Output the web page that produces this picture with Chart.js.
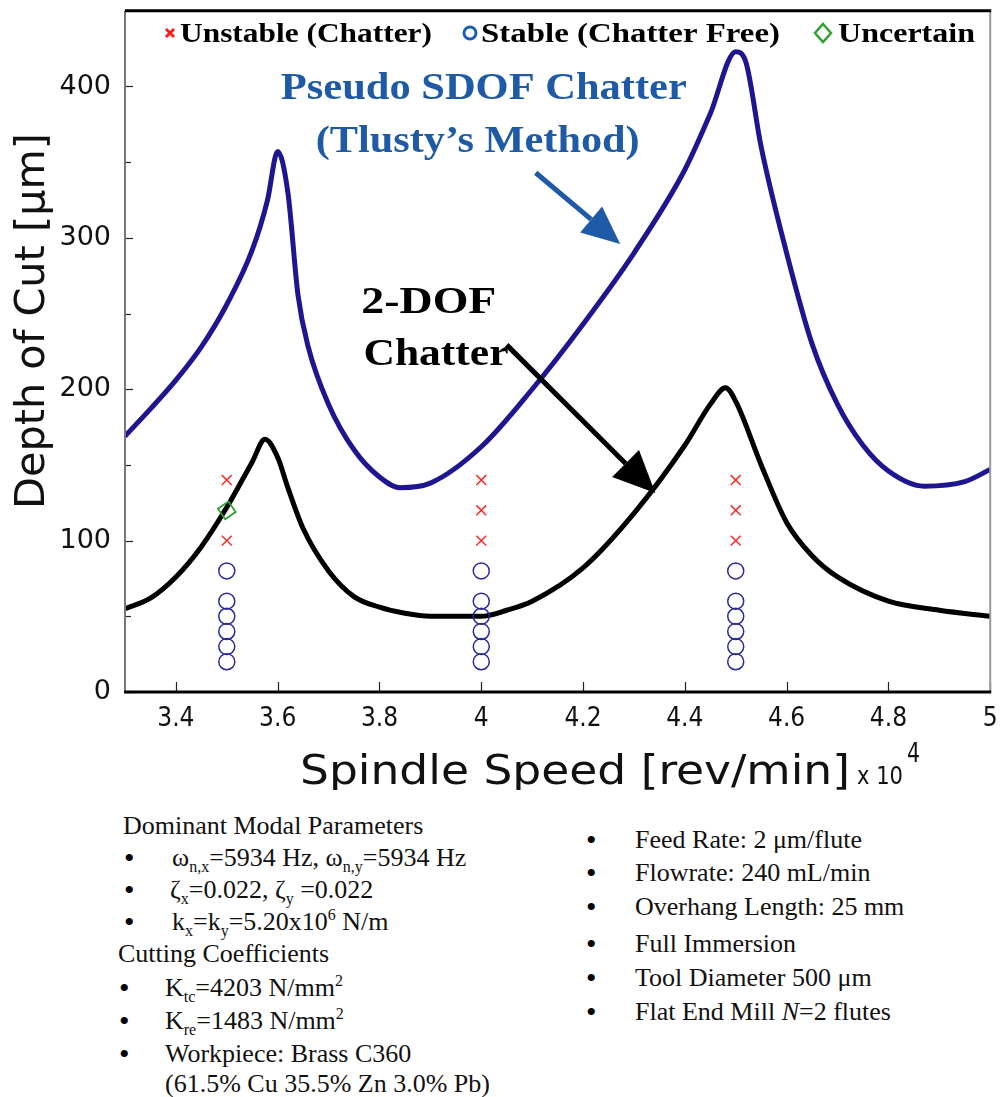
<!DOCTYPE html>
<html><head><meta charset="utf-8">
<script src="https://cdn.jsdelivr.net/npm/chart.js@4.4.1/dist/chart.umd.min.js"></script>
<style>
html,body{margin:0;padding:0;background:#fff;}
#wrap{position:relative;width:1001px;height:1097px;overflow:hidden;background:#fff;}
#c{position:absolute;left:0;top:0;}
.t{position:absolute;font-family:'Liberation Serif','Times New Roman',serif;font-size:26px;color:#111;white-space:nowrap;line-height:30px;height:30px;}
.d{position:absolute;font-family:'Liberation Serif','Times New Roman',serif;font-size:30px;color:#000;line-height:30px;height:30px;}
sub{font-size:16px;vertical-align:-6px;line-height:0;}
sup{font-size:16px;vertical-align:10px;line-height:0;}
</style>
</head><body>
<div id="wrap">
<canvas id="c" width="1001" height="790"></canvas>
<div class="t" style="left:123px;top:811px;">Dominant Modal Parameters</div>
<div class="d" style="left:124px;top:843px;">•</div><div class="t" style="left:172px;top:843px;">ω<sub>n,x</sub>=5934 Hz, ω<sub>n,y</sub>=5934 Hz</div>
<div class="d" style="left:124px;top:875px;">•</div><div class="t" style="left:170px;top:875px;">ζ<sub>x</sub>=0.022, ζ<sub>y</sub> =0.022</div>
<div class="d" style="left:124px;top:907px;">•</div><div class="t" style="left:172px;top:907px;">k<sub>x</sub>=k<sub>y</sub>=5.20x10<sup>6</sup> N/m</div>
<div class="t" style="left:118px;top:939px;">Cutting Coefficients</div>
<div class="d" style="left:119px;top:973px;">•</div><div class="t" style="left:165px;top:973px;">K<sub>tc</sub>=4203 N/mm<sup>2</sup></div>
<div class="d" style="left:119px;top:1006px;">•</div><div class="t" style="left:165px;top:1006px;">K<sub>re</sub>=1483 N/mm<sup>2</sup></div>
<div class="d" style="left:119px;top:1039px;">•</div><div class="t" style="left:165px;top:1039px;">Workpiece: Brass C360</div>
<div class="t" style="left:165px;top:1069px;">(61.5% Cu 35.5% Zn 3.0% Pb)</div>
<div class="d" style="left:586px;top:825px;">•</div><div class="t" style="left:635px;top:825px;">Feed Rate: 2 μm/flute</div>
<div class="d" style="left:586px;top:858px;">•</div><div class="t" style="left:635px;top:858px;">Flowrate: 240 mL/min</div>
<div class="d" style="left:586px;top:892px;">•</div><div class="t" style="left:635px;top:892px;">Overhang Length: 25 mm</div>
<div class="d" style="left:586px;top:929px;">•</div><div class="t" style="left:635px;top:929px;">Full Immersion</div>
<div class="d" style="left:586px;top:963px;">•</div><div class="t" style="left:635px;top:963px;">Tool Diameter 500 μm</div>
<div class="d" style="left:586px;top:997px;">•</div><div class="t" style="left:635px;top:997px;">Flat End Mill <i>N</i>=2 flutes</div>
</div>
<script>
// ---- data ----
const speedsSDOF = [3.30,3.35,3.40,3.45,3.50,3.55,3.58,3.60,3.62,3.64,3.66,3.70,3.75,3.80,3.84,3.90,4.00,4.10,4.20,4.30,4.40,4.45,4.50,4.52,4.55,4.60,4.65,4.70,4.75,4.80,4.87,4.95,5.00];
const depthSDOF  = [169,187,206,228,256,292,325,357,330,262,228,190,160,142,135,138,162,200,243,290,345,382,423,416,360,290,230,190,163,146,136,139,147];
const speeds2DOF = [3.30,3.35,3.40,3.45,3.50,3.55,3.575,3.60,3.62,3.65,3.70,3.75,3.80,3.85,3.90,4.00,4.05,4.10,4.20,4.30,4.40,4.45,4.48,4.50,4.55,4.60,4.65,4.70,4.80,4.90,5.00];
const depth2DOF  = [55,62,76,96,122,152,167,155,135,108,80,63,56,52,50,50,54,60,82,118,163,190,201,192,150,112,90,76,60,54,50];
const testSpeeds = [3.5, 4.0, 4.5];
const unstableDepths = [140, 120, 100];
const stableDepths = [80, 60, 50, 40, 30, 20];
const uncertainSpeeds = [3.5];
const uncertainDepths = [120];
const xTickValues = [3.4,3.6,3.8,4.0,4.2,4.4,4.6,4.8,5.0];
const yTickValues = [0,100,200,300,400];
const yMinorTickValues = [50,150,250,350];
const legendLabels = ['Unstable (Chatter)','Stable (Chatter Free)','Uncertain'];

// ---- derived point lists ----
const isUncertain = (s,d)=>uncertainSpeeds.some((u,i)=>u===s && uncertainDepths[i]===d);
const unstablePts = [], stablePts = [], uncertainPts = [];
testSpeeds.forEach(s=>{
  unstableDepths.forEach(d=>{ if(!isUncertain(s,d)) unstablePts.push({x:s,y:d}); });
  stableDepths.forEach(d=>stablePts.push({x:s,y:d}));
});
uncertainSpeeds.forEach((s,i)=>uncertainPts.push({x:s,y:uncertainDepths[i]}));

const NARROW = '"Liberation Sans Narrow","DejaVu Sans Condensed","Arial Narrow",sans-serif';
const SERIF = '"Liberation Serif","Times New Roman",serif';

function fitText(ctx, text, x, y, width, font, color, align){
  ctx.save();
  ctx.font = font; ctx.fillStyle = color; ctx.textBaseline = 'alphabetic';
  const w = ctx.measureText(text).width;
  const s = width / w;
  ctx.translate(x, y); ctx.scale(s, 1);
  ctx.textAlign = align || 'left';
  ctx.fillText(text, 0, 0);
  ctx.restore();
}
function arrow(ctx, x1,y1,x2,y2,color,lw,headLen,headHalf){
  const a = Math.atan2(y2-y1,x2-x1);
  const bx = x2 - headLen*Math.cos(a), by = y2 - headLen*Math.sin(a);
  ctx.save();
  ctx.strokeStyle=color; ctx.fillStyle=color; ctx.lineWidth=lw; ctx.lineCap='butt';
  ctx.beginPath(); ctx.moveTo(x1,y1); ctx.lineTo(bx,by); ctx.stroke();
  ctx.beginPath(); ctx.moveTo(x2,y2);
  ctx.lineTo(bx + headHalf*Math.sin(a), by - headHalf*Math.cos(a));
  ctx.lineTo(bx - headHalf*Math.sin(a), by + headHalf*Math.cos(a));
  ctx.closePath(); ctx.fill();
  ctx.restore();
}

const decor = {
  id:'decor',
  afterDatasetsDraw(chart){
    const {ctx, chartArea:ca, scales:{x,y}} = chart;
    ctx.save();
    ctx.strokeStyle='#222'; ctx.lineWidth=1.2;
    xTickValues.forEach(v=>{const px=Math.round(x.getPixelForValue(v))+0.5; ctx.beginPath(); ctx.moveTo(px,ca.bottom); ctx.lineTo(px,ca.bottom-10); ctx.stroke();});
    yTickValues.forEach(v=>{const py=Math.round(y.getPixelForValue(v))+0.5; ctx.beginPath(); ctx.moveTo(ca.left,py); ctx.lineTo(ca.left+8,py); ctx.stroke();});
    yMinorTickValues.forEach(v=>{const py=Math.round(y.getPixelForValue(v))+0.5; ctx.beginPath(); ctx.moveTo(ca.left,py); ctx.lineTo(ca.left+6,py); ctx.stroke();});
    ctx.strokeStyle='#999'; ctx.lineWidth=2;
    ctx.beginPath(); ctx.moveTo(ca.right,ca.top); ctx.lineTo(ca.right,ca.bottom); ctx.stroke();
    ctx.strokeStyle='#777'; ctx.lineWidth=2;
    ctx.beginPath(); ctx.moveTo(ca.left,ca.top); ctx.lineTo(ca.left,ca.bottom); ctx.stroke();
    ctx.strokeStyle='#000'; ctx.lineWidth=3;
    ctx.beginPath(); ctx.moveTo(ca.left-1,ca.bottom); ctx.lineTo(ca.right+1,ca.bottom); ctx.stroke();
    ctx.beginPath(); ctx.moveTo(ca.left,ca.top); ctx.lineTo(ca.right+1,ca.top); ctx.stroke();
    ctx.restore();
  },
  afterDraw(chart){
    const {ctx, scales:{x,y}} = chart;
    ctx.save();
    ctx.translate(44, 321); ctx.rotate(-Math.PI/2);
    fitText(ctx, 'Depth of Cut [μm]', 0, 0, 376, '40px '+NARROW, '#111', 'center');
    ctx.restore();
    fitText(ctx, 'Spindle Speed [rev/min]', 300, 784, 550, '40px '+NARROW, '#111', 'left');
    fitText(ctx, 'x 10', 857, 784, 46, '24px '+NARROW, '#111', 'left');
    fitText(ctx, '4', 907, 762, 13, '26px '+NARROW, '#111', 'left');
    const ly = 33;
    ctx.save();
    ctx.strokeStyle='#ff1a1a'; ctx.lineWidth=3;
    ctx.beginPath(); ctx.moveTo(166,ly-4); ctx.lineTo(174,ly+4); ctx.moveTo(174,ly-4); ctx.lineTo(166,ly+4); ctx.stroke();
    ctx.strokeStyle='#1a5fb4'; ctx.lineWidth=3;
    ctx.beginPath(); ctx.arc(470,ly,6,0,Math.PI*2); ctx.stroke();
    ctx.strokeStyle='#33a033'; ctx.lineWidth=2.5;
    ctx.beginPath(); ctx.moveTo(823,ly-9); ctx.lineTo(831,ly); ctx.lineTo(823,ly+9); ctx.lineTo(815,ly); ctx.closePath(); ctx.stroke();
    ctx.restore();
    fitText(ctx, legendLabels[0], 180, 42, 252, 'bold 28px '+SERIF, '#000');
    fitText(ctx, legendLabels[1], 481, 42, 299, 'bold 28px '+SERIF, '#000');
    fitText(ctx, legendLabels[2], 838, 42, 137, 'bold 28px '+SERIF, '#000');
    const X = v=>x.getPixelForValue(v), Y = v=>y.getPixelForValue(v);
    const blue = '#1f5aa6';
    fitText(ctx, 'Pseudo SDOF Chatter', X(4.005), Y(391.5), 406, 'bold 38px '+SERIF, blue, 'center');
    fitText(ctx, '(Tlusty’s Method)', X(3.993), Y(357), 324, 'bold 38px '+SERIF, blue, 'center');
    fitText(ctx, '2-DOF', X(3.897), Y(250.5), 135, 'bold 38px '+SERIF, '#000', 'center');
    fitText(ctx, 'Chatter', X(3.911), Y(216), 145, 'bold 38px '+SERIF, '#000', 'center');
    arrow(ctx, X(4.107), Y(343), X(4.273), Y(296), blue, 5, 38, 17);
    arrow(ctx, X(4.05), Y(229.3), X(4.342), Y(131.4), '#000', 5, 42, 19);
  }
};

new Chart(document.getElementById('c'), {
  type:'scatter',
  data:{datasets:[
    {label:'Pseudo SDOF Chatter', type:'line', data:speedsSDOF.map((s,i)=>({x:s,y:depthSDOF[i]})), borderColor:'#1e1590', borderWidth:5, pointRadius:0, fill:false, cubicInterpolationMode:'monotone', order:3},
    {label:'2-DOF Chatter', type:'line', data:speeds2DOF.map((s,i)=>({x:s,y:depth2DOF[i]})), borderColor:'#000', borderWidth:5, pointRadius:0, fill:false, cubicInterpolationMode:'monotone', order:2},
    {label:legendLabels[0], data:unstablePts, pointStyle:'cross', rotation:45, pointRadius:7, borderColor:'#ff2a2a', backgroundColor:'#ff2a2a', pointBorderWidth:1.5, order:1},
    {label:legendLabels[1], data:stablePts, pointStyle:'circle', pointRadius:8, borderColor:'#2a2a9a', backgroundColor:'rgba(0,0,0,0)', pointBorderWidth:1.5, order:1},
    {label:legendLabels[2], data:uncertainPts, pointStyle:'rectRot', rotation:10, pointRadius:9, borderColor:'#2ea02e', backgroundColor:'rgba(0,0,0,0)', pointBorderWidth:1.8, order:0}
  ]},
  options:{
    responsive:false, animation:false, devicePixelRatio:1,
    layout:{padding:{top:7,right:8,left:0,bottom:0}},
    plugins:{legend:{display:false}, tooltip:{enabled:false}},
    scales:{
      x:{type:'linear', min:3.3, max:5.0,
        afterBuildTicks:s=>{s.ticks = xTickValues.map(v=>({value:v}));},
        afterFit:s=>{s.height = 98; s.paddingLeft = 0; s.paddingRight = 0;},
        grid:{display:false, drawTicks:false}, border:{display:false},
        ticks:{padding:12, color:'#111', font:{family:NARROW, size:26}, maxRotation:0, autoSkip:false,
          callback:v=>String(+(+v).toFixed(1))}},
      y:{type:'linear', min:0, max:450,
        afterBuildTicks:s=>{s.ticks = yTickValues.map(v=>({value:v}));},
        afterFit:s=>{s.width = 125; s.paddingTop = 0; s.paddingBottom = 0;},
        grid:{display:false, drawTicks:false}, border:{display:false},
        ticks:{padding:14, color:'#111', font:{family:'"DejaVu Sans",sans-serif', size:27}, autoSkip:false}}
    }
  },
  plugins:[decor]
});
</script>
</body></html>
